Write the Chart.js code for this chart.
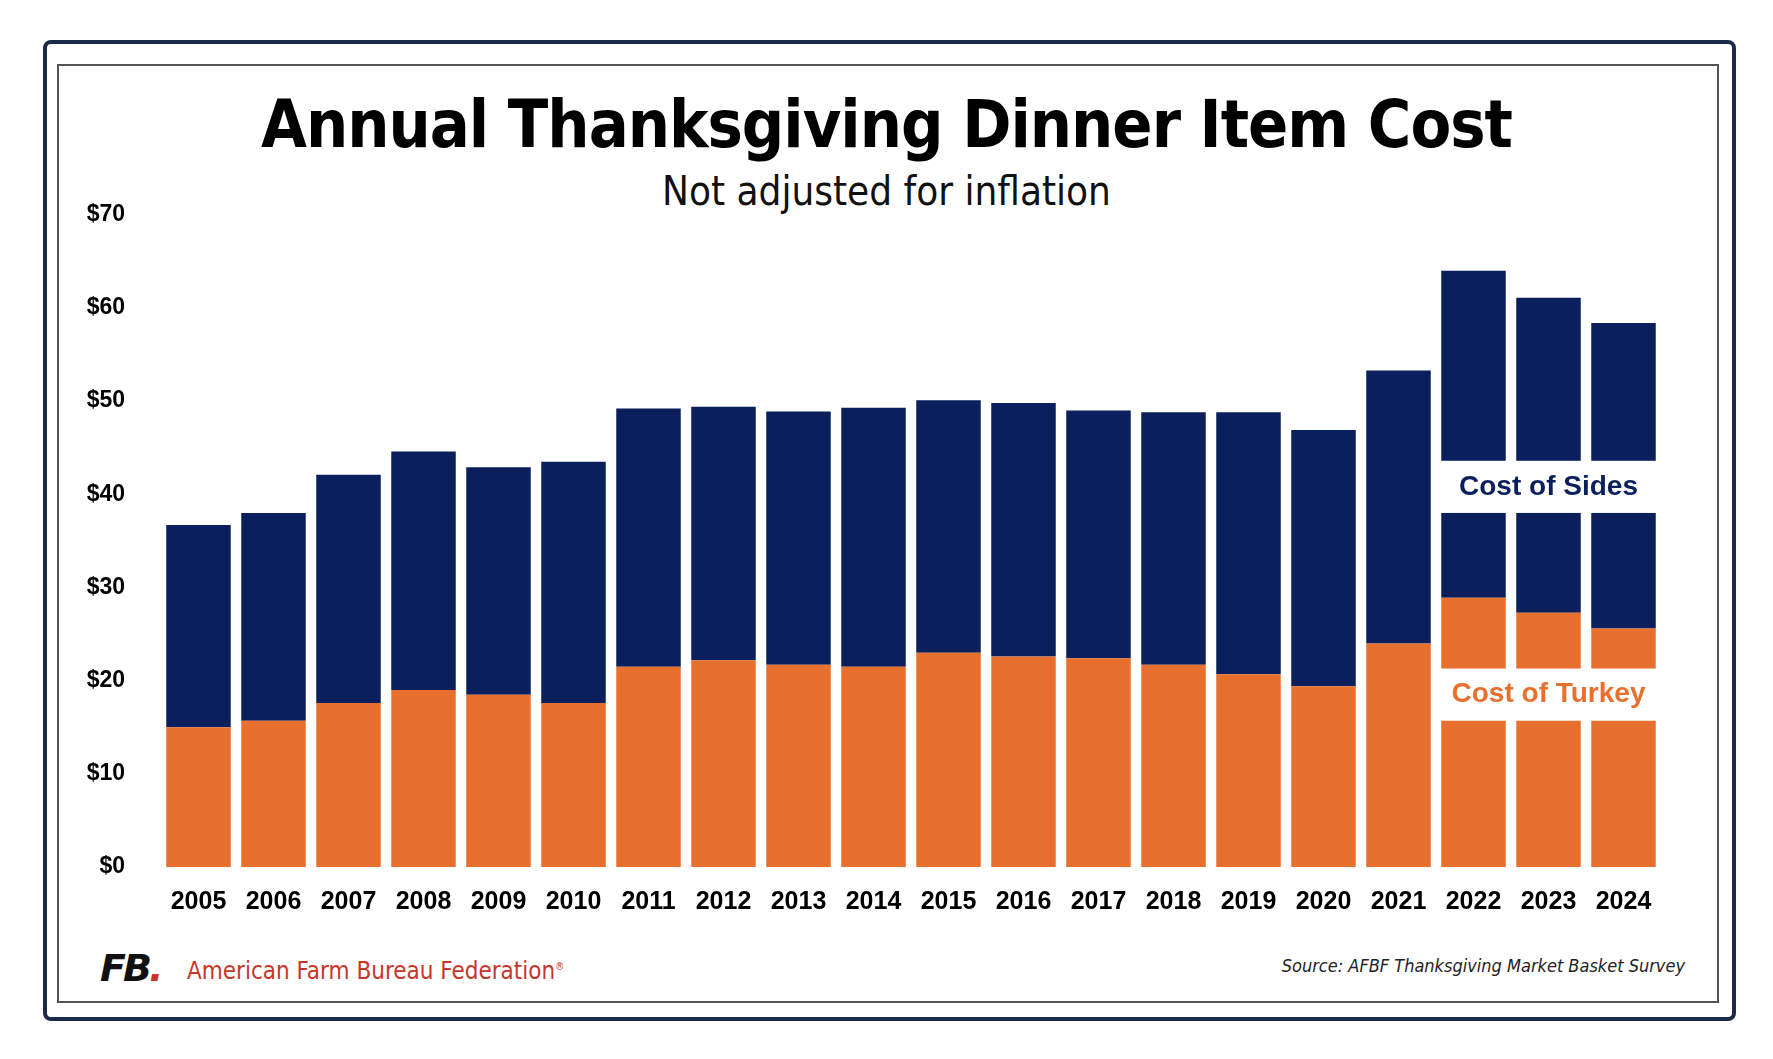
<!DOCTYPE html>
<html><head><meta charset="utf-8">
<script src="https://cdn.jsdelivr.net/npm/chart.js@4"></script>
<style>
body{margin:0;background:#fff;width:1773px;height:1059px;position:relative;font-family:"Liberation Sans",Arial,sans-serif;overflow:hidden}
#outer{position:absolute;left:43px;top:40px;width:1693px;height:981px;border:4px solid #1b2a47;border-radius:8px;box-sizing:border-box}
#inner{position:absolute;left:57px;top:64px;width:1662px;height:939px;border:2px solid #555;box-sizing:border-box}
#title{position:absolute;left:0;width:1773px;top:86px;text-align:center;font:bold 66px "DejaVu Sans Condensed","DejaVu Sans",sans-serif;color:#000;letter-spacing:-1px}
#sub{position:absolute;left:0;width:1773px;top:168px;text-align:center;font:40px "DejaVu Sans Condensed","DejaVu Sans",sans-serif;color:#111}
#box{position:absolute;left:57px;top:173px;width:1661px;height:745px}
#logo{position:absolute;left:100px;top:946px;font:italic 900 38px "DejaVu Sans",sans-serif;color:#111;letter-spacing:-3px}
#afbf{position:absolute;left:187px;top:957px;font:24px "DejaVu Sans Condensed","DejaVu Sans",sans-serif;color:#c8362b}
#src{position:absolute;right:88px;top:955px;font:italic 18px "DejaVu Sans Condensed","DejaVu Sans",sans-serif;color:#222}
</style></head><body>
<div id="outer"></div><div id="inner"></div>
<div id="title">Annual Thanksgiving Dinner Item Cost</div>
<div id="sub">Not adjusted for inflation</div>
<div id="box"><canvas id="c"></canvas></div>
<div id="logo">FB<span style="color:#c8362b">.</span></div>
<div id="afbf">American Farm Bureau Federation<sup style="font-size:10px">®</sup></div>
<div id="src">Source: AFBF Thanksgiving Market Basket Survey</div>
<script>
const years=["2005","2006","2007","2008","2009","2010","2011","2012","2013","2014","2015","2016","2017","2018","2019","2020","2021","2022","2023","2024"];
const turkey=[15.0,15.7,17.6,19.0,18.5,17.6,21.5,22.2,21.7,21.5,23.0,22.6,22.4,21.7,20.7,19.4,24.0,28.9,27.3,25.6];
const totals=[36.7,38.0,42.1,44.6,42.9,43.5,49.2,49.4,48.9,49.3,50.1,49.8,49.0,48.8,48.8,46.9,53.3,64.0,61.1,58.4];
const sides=totals.map((t,i)=>+(t-turkey[i]).toFixed(2));
const labelYears=["2022","2023","2024"];
const sidesGap=[38.0,43.6], turkeyGap=[15.7,21.3];
const NAVY="#0a1f5c", ORANGE="#e8702f";
const gapPlugin={id:"gaps",afterDatasetsDraw(ch){
  const ctx=ch.ctx,y=ch.scales.y;
  const meta=ch.getDatasetMeta(0);
  const idx=labelYears.map(l=>years.indexOf(l));
  const b0=meta.data[idx[0]],b1=meta.data[idx[idx.length-1]];
  const L=b0.x-b0.width/2-2,R=b1.x+b1.width/2+2,cx=(L+R)/2;
  ctx.save();
  [[sidesGap,"Cost of Sides",NAVY],[turkeyGap,"Cost of Turkey",ORANGE]].forEach(([g,t,c])=>{
    const top=y.getPixelForValue(g[1]),bot=y.getPixelForValue(g[0]);
    ctx.fillStyle="#fff";ctx.fillRect(L,top,R-L,bot-top);
    ctx.fillStyle=c;ctx.font="bold 28px 'Liberation Sans',Arial,sans-serif";ctx.textAlign="center";ctx.textBaseline="middle";
    ctx.fillText(t,cx,(top+bot)/2);
  });
  ctx.restore();
}};
new Chart(document.getElementById("c"),{type:"bar",
 data:{labels:years,datasets:[
  {label:"Cost of Turkey",data:turkey,backgroundColor:ORANGE,barPercentage:0.86,categoryPercentage:1},
  {label:"Cost of Sides",data:sides,backgroundColor:NAVY,barPercentage:0.86,categoryPercentage:1}]},
 options:{responsive:true,maintainAspectRatio:false,animation:false,
  layout:{padding:{left:4,right:57,top:7,bottom:0}},
  plugins:{legend:{display:false},tooltip:{enabled:false}},
  scales:{
   x:{stacked:true,grid:{display:false},border:{display:false},
      ticks:{color:"#000",font:{family:"'Liberation Sans',Arial",weight:"bold",size:25},padding:12,maxRotation:0},
      afterFit:s=>{s.height=51}},
   y:{stacked:true,min:0,max:70,grid:{display:false},border:{display:false},
      ticks:{stepSize:10,color:"#000",font:{family:"'Liberation Sans',Arial",weight:"bold",size:23},padding:28,callback:v=>"$"+v},
      afterFit:s=>{s.width=100}}}},
 plugins:[gapPlugin]});
</script></body></html>
